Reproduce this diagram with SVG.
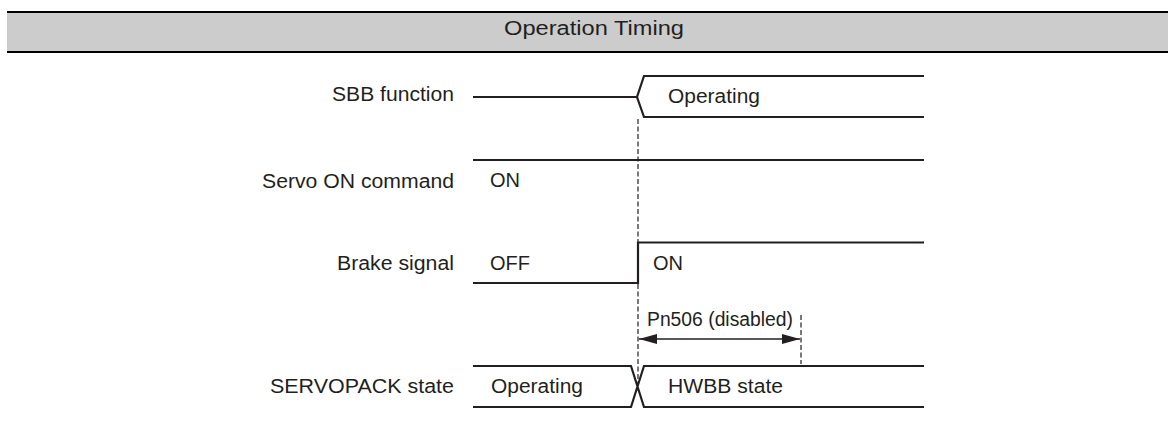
<svg xmlns="http://www.w3.org/2000/svg" width="1168" height="421" viewBox="0 0 1168 421">
<style>
text{font-family:"Liberation Sans",Arial,sans-serif;fill:#231f20;font-size:20px}
.t{text-anchor:end}
.w{fill:none;stroke:#231f20;stroke-width:2.2}
.d{fill:none;stroke:#231f20;stroke-width:1.2;stroke-dasharray:5 2.5}
</style>
<defs>
<marker id="ah" markerWidth="18" markerHeight="10" refX="18" refY="5" orient="auto-start-reverse" markerUnits="userSpaceOnUse">
<path d="M0,0 L18,5 L0,10 Z" fill="#231f20"/>
</marker>
</defs>
<g id="header">
<rect x="7" y="12" width="1161" height="40" fill="#cccccc"/>
<line x1="7" y1="12" x2="1168" y2="12" stroke="#000" stroke-width="2.2"/>
<line x1="7" y1="52" x2="1168" y2="52" stroke="#000" stroke-width="2.2"/>
<text x="504" y="35" font-size="21" textLength="180" lengthAdjust="spacingAndGlyphs" fill="#000">Operation Timing</text>
</g>
<g id="labels">
<text x="332" y="101" textLength="122" lengthAdjust="spacingAndGlyphs">SBB function</text>
<text x="262" y="188" textLength="192" lengthAdjust="spacingAndGlyphs">Servo ON command</text>
<text x="337" y="270" textLength="117" lengthAdjust="spacingAndGlyphs">Brake signal</text>
<text x="270" y="393" textLength="184" lengthAdjust="spacingAndGlyphs">SERVOPACK state</text>
</g>
<g id="sbb">
<path class="w" d="M473,97 H637 M924,76 H644 L637,97 L644,117 H924"/>
<text x="668" y="103" textLength="92" lengthAdjust="spacingAndGlyphs">Operating</text>
</g>
<g id="servo-on">
<path class="w" d="M473,160 H924"/>
<text x="490" y="187">ON</text>
</g>
<g id="brake">
<path class="w" d="M473,283 H638 V242.5 H924"/>
<text x="490" y="270">OFF</text>
<text x="653" y="270">ON</text>
</g>
<g id="servopack">
<path class="w" d="M473,366 H631 L644,407 H924 M473,407 H631 L644,366 H924"/>
<text x="491" y="393" textLength="92" lengthAdjust="spacingAndGlyphs">Operating</text>
<text x="668" y="393" textLength="115" lengthAdjust="spacingAndGlyphs">HWBB state</text>
</g>
<g id="connectors">
<line class="d" x1="638" y1="119" x2="638" y2="386"/>
<line class="d" x1="801" y1="315" x2="801" y2="364"/>
<line x1="639" y1="339" x2="800" y2="339" stroke="#231f20" stroke-width="1.4" marker-start="url(#ah)" marker-end="url(#ah)"/>
<text x="647" y="326" textLength="146" lengthAdjust="spacingAndGlyphs" font-size="18.6">Pn506 (disabled)</text>
</g>
</svg>
